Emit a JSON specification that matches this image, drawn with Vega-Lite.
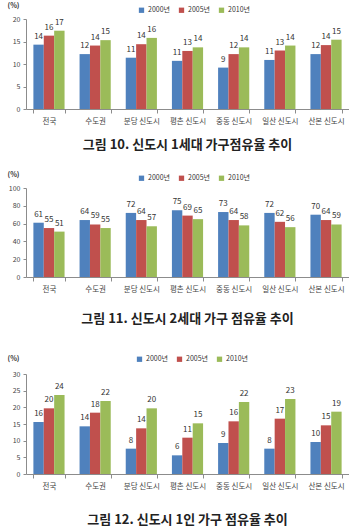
{
  "$schema": "https://vega.github.io/schema/vega-lite/v6.json",
  "background": "white",
  "padding": {"left": 6, "top": 1, "right": 0, "bottom": 0},
  "spacing": 18,
  "config": {
    "font": "Noto Sans CJK KR",
    "view": {"stroke": null},
    "axis": {"grid": false, "domainColor": "#8c8c8c", "tickColor": "#8c8c8c", "labelColor": "#444444", "labelFont": "Noto Sans CJK KR"},
    "axisY": {"tickSize": 3, "labelFontSize": 7, "labelPadding": 3, "titleFontSize": 7, "titleFontWeight": "bold", "titleColor": "#333333", "titleAngle": 0, "titleAlign": "center", "titleBaseline": "middle", "titleX": -13},
    "axisX": {"labelAngle": 0, "tickBand": "extent", "tickSize": 4, "labelFontSize": 7.5, "labelPadding": 4, "title": null},
    "legend": {"orient": "none", "direction": "horizontal", "title": null, "symbolType": "square", "symbolSize": 28, "symbolStrokeWidth": 0, "labelFontSize": 7, "labelColor": "#333333", "labelOffset": 3, "columnPadding": 8},
    "title": {"fontSize": 13, "fontWeight": "bold", "color": "#222222", "anchor": "middle", "orient": "bottom"},
    "text": {"fontSize": 8, "color": "#333333", "baseline": "bottom", "dy": -4}
  },
  "datasets": {
    "oneGeneration": [
      {"region": "전국", "year": "2000년", "value": 14.3}, {"region": "전국", "year": "2005년", "value": 16.3}, {"region": "전국", "year": "2010년", "value": 17.4},
      {"region": "수도권", "year": "2000년", "value": 12.2}, {"region": "수도권", "year": "2005년", "value": 14.1}, {"region": "수도권", "year": "2010년", "value": 15.3},
      {"region": "분당 신도시", "year": "2000년", "value": 11.4}, {"region": "분당 신도시", "year": "2005년", "value": 14.4}, {"region": "분당 신도시", "year": "2010년", "value": 15.8},
      {"region": "평촌 신도시", "year": "2000년", "value": 10.7}, {"region": "평촌 신도시", "year": "2005년", "value": 12.9}, {"region": "평촌 신도시", "year": "2010년", "value": 13.7},
      {"region": "중동 신도시", "year": "2000년", "value": 9.2}, {"region": "중동 신도시", "year": "2005년", "value": 12.2}, {"region": "중동 신도시", "year": "2010년", "value": 13.7},
      {"region": "일산 신도시", "year": "2000년", "value": 10.9}, {"region": "일산 신도시", "year": "2005년", "value": 13.0}, {"region": "일산 신도시", "year": "2010년", "value": 14.1},
      {"region": "산본 신도시", "year": "2000년", "value": 12.2}, {"region": "산본 신도시", "year": "2005년", "value": 14.2}, {"region": "산본 신도시", "year": "2010년", "value": 15.4}
    ],
    "twoGeneration": [
      {"region": "전국", "year": "2000년", "value": 61}, {"region": "전국", "year": "2005년", "value": 55}, {"region": "전국", "year": "2010년", "value": 51},
      {"region": "수도권", "year": "2000년", "value": 64}, {"region": "수도권", "year": "2005년", "value": 59}, {"region": "수도권", "year": "2010년", "value": 55},
      {"region": "분당 신도시", "year": "2000년", "value": 72}, {"region": "분당 신도시", "year": "2005년", "value": 64}, {"region": "분당 신도시", "year": "2010년", "value": 57},
      {"region": "평촌 신도시", "year": "2000년", "value": 75}, {"region": "평촌 신도시", "year": "2005년", "value": 69}, {"region": "평촌 신도시", "year": "2010년", "value": 65},
      {"region": "중동 신도시", "year": "2000년", "value": 73}, {"region": "중동 신도시", "year": "2005년", "value": 64}, {"region": "중동 신도시", "year": "2010년", "value": 58},
      {"region": "일산 신도시", "year": "2000년", "value": 72}, {"region": "일산 신도시", "year": "2005년", "value": 62}, {"region": "일산 신도시", "year": "2010년", "value": 56},
      {"region": "산본 신도시", "year": "2000년", "value": 70}, {"region": "산본 신도시", "year": "2005년", "value": 64}, {"region": "산본 신도시", "year": "2010년", "value": 59}
    ],
    "onePerson": [
      {"region": "전국", "year": "2000년", "value": 15.6}, {"region": "전국", "year": "2005년", "value": 19.7}, {"region": "전국", "year": "2010년", "value": 23.7},
      {"region": "수도권", "year": "2000년", "value": 14.3}, {"region": "수도권", "year": "2005년", "value": 18.4}, {"region": "수도권", "year": "2010년", "value": 21.9},
      {"region": "분당 신도시", "year": "2000년", "value": 7.6}, {"region": "분당 신도시", "year": "2005년", "value": 13.7}, {"region": "분당 신도시", "year": "2010년", "value": 19.7},
      {"region": "평촌 신도시", "year": "2000년", "value": 5.6}, {"region": "평촌 신도시", "year": "2005년", "value": 10.9}, {"region": "평촌 신도시", "year": "2010년", "value": 15.2},
      {"region": "중동 신도시", "year": "2000년", "value": 9.3}, {"region": "중동 신도시", "year": "2005년", "value": 15.8}, {"region": "중동 신도시", "year": "2010년", "value": 21.6},
      {"region": "일산 신도시", "year": "2000년", "value": 7.6}, {"region": "일산 신도시", "year": "2005년", "value": 16.6}, {"region": "일산 신도시", "year": "2010년", "value": 22.5},
      {"region": "산본 신도시", "year": "2000년", "value": 9.6}, {"region": "산본 신도시", "year": "2005년", "value": 14.6}, {"region": "산본 신도시", "year": "2010년", "value": 18.7}
    ]
  },
  "resolve": {"legend": {"color": "independent"}, "scale": {"y": "independent"}},
  "vconcat": [
    {
      "width": 323, "height": 90,
      "data": {"name": "oneGeneration"},
      "title": {"text": "그림 10. 신도시 1세대 가구점유율 추이", "offset": 14},
      "encoding": {
        "x": {"field": "region", "type": "nominal", "sort": null, "scale": {"paddingInner": 0.325, "paddingOuter": 0.16}},
        "xOffset": {"field": "year", "type": "nominal", "sort": null},
        "y": {"field": "value", "type": "quantitative", "scale": {"domain": [0, 20]}, "axis": {"values": [0, 5, 10, 15, 20], "title": "(%)", "titleY": -14}}
      },
      "layer": [
        {"mark": {"type": "bar"}, "encoding": {"color": {"field": "year", "type": "nominal", "scale": {"domain": ["2000년", "2005년", "2010년"], "range": ["#4f81bd", "#c0504d", "#9bbb59"]}, "legend": {"legendX": 112, "legendY": -12.5}}}},
        {"mark": {"type": "text"}, "encoding": {"text": {"field": "value", "type": "quantitative", "format": ".0f"}}}
      ]
    },
    {
      "width": 323, "height": 89,
      "data": {"name": "twoGeneration"},
      "title": {"text": "그림 11. 신도시 2세대 가구 점유율 추이", "offset": 20},
      "encoding": {
        "x": {"field": "region", "type": "nominal", "sort": null, "scale": {"paddingInner": 0.325, "paddingOuter": 0.16}},
        "xOffset": {"field": "year", "type": "nominal", "sort": null},
        "y": {"field": "value", "type": "quantitative", "scale": {"domain": [0, 100]}, "axis": {"values": [0, 20, 40, 60, 80, 100], "title": "(%)", "titleY": -14}}
      },
      "layer": [
        {"mark": {"type": "bar"}, "encoding": {"color": {"field": "year", "type": "nominal", "scale": {"domain": ["2000년", "2005년", "2010년"], "range": ["#4f81bd", "#c0504d", "#9bbb59"]}, "legend": {"legendX": 112, "legendY": -13.5}}}},
        {"mark": {"type": "text"}, "encoding": {"text": {"field": "value", "type": "quantitative", "format": ".0f"}}}
      ]
    },
    {
      "width": 323, "height": 100,
      "data": {"name": "onePerson"},
      "title": {"text": "그림 12. 신도시 1인 가구 점유율 추이", "offset": 24},
      "encoding": {
        "x": {"field": "region", "type": "nominal", "sort": null, "scale": {"paddingInner": 0.325, "paddingOuter": 0.16}},
        "xOffset": {"field": "year", "type": "nominal", "sort": null},
        "y": {"field": "value", "type": "quantitative", "scale": {"domain": [0, 30]}, "axis": {"values": [0, 5, 10, 15, 20, 25, 30], "title": "(%)", "titleY": -16}}
      },
      "layer": [
        {"mark": {"type": "bar"}, "encoding": {"color": {"field": "year", "type": "nominal", "scale": {"domain": ["2000년", "2005년", "2010년"], "range": ["#4f81bd", "#c0504d", "#9bbb59"]}, "legend": {"legendX": 99, "legendY": -29.5, "padding": 11}}}},
        {"mark": {"type": "text"}, "encoding": {"text": {"field": "value", "type": "quantitative", "format": ".0f"}}}
      ]
    }
  ]
}
